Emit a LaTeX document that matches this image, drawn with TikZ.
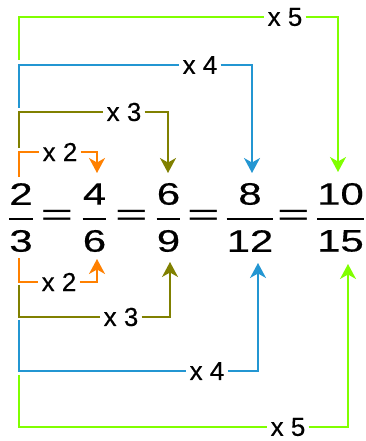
\documentclass[tikz,border=0pt]{standalone}
\usepackage{fontspec}
\setmainfont{Liberation Sans}[FakeBold=0.4]
\newfontfamily\fracfont[FakeStretch=1.35, FakeBold=0.45]{Liberation Sans}
\newfontfamily\eqfont[FakeStretch=1.8]{Liberation Sans}
\usetikzlibrary{arrows.meta,calc}
\definecolor{xtwo}{RGB}{255,128,0}
\definecolor{xthree}{RGB}{128,128,0}
\definecolor{xfour}{RGB}{35,150,210}
\definecolor{xfive}{RGB}{128,255,0}

\begin{document}
\begin{tikzpicture}[
  x=1pt, y=-1pt,
  num/.style={inner sep=0pt, font=\fracfont\fontsize{31}{36}\selectfont},
  eqs/.style={inner sep=0pt, font=\eqfont\fontsize{31}{36}\selectfont},
  lbl/.style={inner xsep=3pt, inner ysep=0pt, font=\fontsize{26}{30}\selectfont},
  fbar/.style={line width=2pt},
  lnk/.style={line width=1.5pt},
  arr/.style={lnk, -{Stealth[length=15pt, width=16pt, inset=4.5pt]}}
]
\useasboundingbox (0,0) rectangle (365,441);
\coordinate (barline) at (0,219);
\foreach \i/\p/\n/\d in {1/21/2/3, 2/94.5/4/6, 3/168.5/6/9, 4/250/8/12, 5/340.5/10/15} {
  \node[num] (n\i) at (\p,194) {\n};
  \node[num] (d\i) at (\p,241) {\d};
  \draw[fbar] (d\i.west |- barline) -- (d\i.east |- barline);
}
\foreach \i/\p in {1/57, 2/131.5, 3/203.5, 4/293.5}
  \node[eqs] (e\i) at (\p,218) {=};
\node[lbl] (up2) at (60,152) {x 2};
\node[lbl] (up3) at (124,112) {x 3};
\node[lbl] (up4) at (200,65) {x 4};
\node[lbl] (up5) at (285,17) {x 5};
\node[lbl] (dn2) at (59,282) {x 2};
\node[lbl] (dn3) at (121,317) {x 3};
\node[lbl] (dn4) at (207,371) {x 4};
\node[lbl] (dn5) at (288,427) {x 5};
\coordinate (sup2) at (19,177);
\coordinate (sup3) at (19,148);
\coordinate (sup4) at (19,108);
\coordinate (sup5) at (19,60);
\coordinate (tup2) at (97,173);
\coordinate (tup3) at (168,173);
\coordinate (tup4) at (252,173);
\coordinate (tup5) at (338,172);
\coordinate (sdn2) at (19,258);
\coordinate (sdn3) at (19,285);
\coordinate (sdn4) at (19,320);
\coordinate (sdn5) at (19,375);
\coordinate (tdn2) at (97,259);
\coordinate (tdn3) at (170,262);
\coordinate (tdn4) at (258,263);
\coordinate (tdn5) at (348,264);
\foreach \k/\c in {2/xtwo, 3/xthree, 4/xfour, 5/xfive} {
  \draw[lnk, color=\c] (sup\k) |- (up\k.west);
  \draw[arr, color=\c] (up\k.east) -| (tup\k);
  \draw[lnk, color=\c] (sdn\k) |- (dn\k.west);
  \draw[arr, color=\c] (dn\k.east) -| (tdn\k);
}
\end{tikzpicture}
\end{document}
